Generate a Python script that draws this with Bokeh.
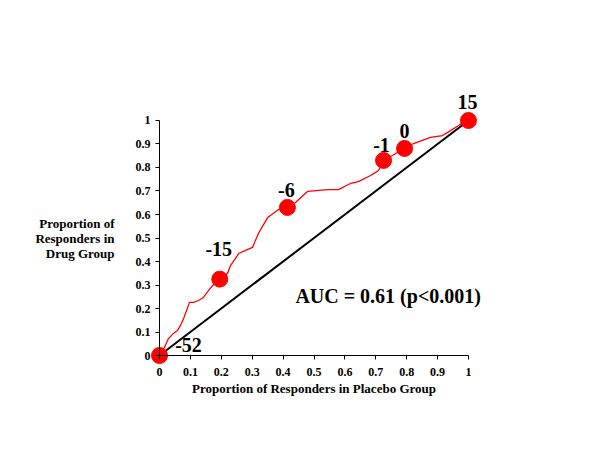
from bokeh.plotting import figure
from bokeh.models import Range1d, FixedTicker, Label
from bokeh.embed import file_html
from bokeh.resources import INLINE
from bokeh.core.properties import value

# ROC-like curve (proportion of responders placebo vs drug)
curve_x = [0.0, 0.016, 0.029, 0.045, 0.058, 0.068, 0.078, 0.091, 0.097, 0.110, 0.126, 0.142,
           0.159, 0.172, 0.195, 0.220, 0.230, 0.246, 0.256, 0.278, 0.301, 0.320, 0.350, 0.385,
           0.414, 0.440, 0.479, 0.544, 0.579, 0.618, 0.644, 0.683, 0.693, 0.709, 0.725, 0.793,
           0.822, 0.877, 0.916, 0.942, 0.968, 0.981, 1.0]
curve_y = [0.0, 0.034, 0.072, 0.094, 0.106, 0.128, 0.157, 0.204, 0.226, 0.226, 0.234, 0.247,
           0.277, 0.298, 0.325, 0.349, 0.383, 0.413, 0.434, 0.447, 0.460, 0.519, 0.587, 0.621,
           0.630, 0.651, 0.698, 0.706, 0.706, 0.732, 0.740, 0.766, 0.774, 0.787, 0.830, 0.881,
           0.902, 0.928, 0.936, 0.957, 0.979, 0.991, 1.0]

# highlighted cut-off points
cut_x = [0.0, 0.195, 0.414, 0.725, 0.793, 1.0]
cut_y = [0.0, 0.325, 0.630, 0.830, 0.881, 1.0]
cut_labels = ["-52", "-15", "-6", "-1", "0", "15"]
cut_dx = [29, -1, -1, -2, 0, -1]
cut_dy = [-11, -30, -17, -15, -17, -18]

diag_x = [0, 1]
diag_y = [0, 1]

ticks = [0, 0.1, 0.2, 0.3, 0.4, 0.5, 0.6, 0.7, 0.8, 0.9, 1]
tick_labels = ["0", "0.1", "0.2", "0.3", "0.4", "0.5", "0.6", "0.7", "0.8", "0.9", "1"]

FONT = "Liberation Serif"

# frame covers the whole canvas so markers/labels are not clipped;
# axes are pinned at 0 and bounded to [0, 1]
p = figure(width=600, height=450, output_backend="svg", toolbar_location=None,
           x_range=Range1d(-0.514563, 1.427184), y_range=Range1d(-0.404255, 1.510638),
           min_border=0)
p.outline_line_color = None
p.grid.visible = False
p.background_fill_color = "white"

for ax in (p.xaxis[0], p.yaxis[0]):
    ax.fixed_location = 0
    ax.bounds = (0, 1)
    ax.ticker = FixedTicker(ticks=ticks)
    ax.major_label_overrides = {t: l for t, l in zip(ticks, tick_labels)}
    ax.minor_tick_line_color = None
    ax.major_tick_in = 0
    ax.major_tick_out = 4
    ax.axis_line_color = "black"
    ax.axis_line_width = 1
    ax.major_label_text_font = FONT
    ax.major_label_text_font_style = "bold"
    ax.major_label_text_font_size = "12px"
    ax.major_label_text_color = "black"
    ax.axis_label_text_font = FONT
    ax.axis_label_text_font_style = "bold"
    ax.axis_label_text_font_size = "13px"
    ax.axis_label_text_color = "black"

p.xaxis.axis_label = "Proportion of Responders in Placebo Group"
p.xaxis.major_label_standoff = 8
p.xaxis.axis_label_standoff = 2
p.yaxis.axis_label = "Proportion of\nResponders in\nDrug Group"
p.yaxis.axis_label_orientation = "horizontal"
p.yaxis.axis_label_text_align = "center"
p.yaxis.axis_label_text_line_height = 1.0
p.yaxis.major_label_standoff = 5
p.yaxis.axis_label_standoff = 18

p.line(diag_x, diag_y, line_color="black", line_width=2)
p.line(curve_x, curve_y, line_color="red", line_width=1.3)
p.scatter(cut_x, cut_y, size=16, fill_color="red", line_color="red")

src = dict(x=cut_x, y=cut_y, t=cut_labels, dx=cut_dx, dy=cut_dy)
p.text(x="x", y="y", text="t", x_offset="dx", y_offset="dy", source=src,
       text_align="center", text_baseline="middle",
       text_font=value(FONT), text_font_style="bold", text_font_size="20px", text_color="black")

p.add_layout(Label(x=0.74, y=0.255, text="AUC = 0.61 (p<0.001)", text_align="center",
                   text_baseline="middle", text_font=FONT, text_font_style="bold",
                   text_font_size="20px", text_color="black"))

open("out.html", "w").write(file_html(p, INLINE))
